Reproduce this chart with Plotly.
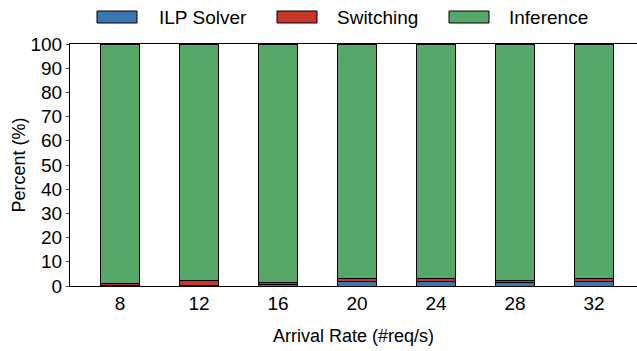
import plotly.graph_objects as go

rates = ["8", "12", "16", "20", "24", "28", "32"]
ilp_solver = [0.2, 0.3, 0.6, 1.8, 2.0, 1.6, 1.8]
switching = [0.9, 1.8, 0.8, 1.2, 1.0, 0.7, 1.2]
inference = [round(100 - a - b, 2) for a, b in zip(ilp_solver, switching)]

series = [
    ("ILP Solver", ilp_solver, "#3A76B0"),
    ("Switching", switching, "#C9372C"),
    ("Inference", inference, "#55A868"),
]

fig = go.Figure()
for name, vals, color in series:
    fig.add_trace(go.Bar(
        x=list(range(len(rates))), y=vals, name=name,
        marker=dict(color=color, line=dict(color="black", width=1)),
        width=0.5, showlegend=False,
    ))

# legend drawn as wide swatches across the top
legend_items = [(97, 137, 157), (277, 317, 335), (449, 489, 507)]
W, H = 637, 351
for (x0, x1, tx), (name, _, color) in zip(legend_items, series):
    fig.add_shape(type="rect", xref="paper", yref="paper",
                  x0=(x0 - 70) / (W - 70), x1=(x1 - 70) / (W - 70),
                  y0=(286 - 23) / 242, y1=(286 - 11) / 242,
                  fillcolor=color, line=dict(color="black", width=1))
    fig.add_annotation(xref="paper", yref="paper",
                       x=(tx - 70) / (W - 70), y=(286 - 17) / 242,
                       text=name, showarrow=False, xanchor="left", yanchor="middle",
                       font=dict(size=19, color="black"))

fig.update_layout(
    barmode="stack",
    width=W, height=H,
    margin=dict(l=70, r=0, t=44, b=65),
    plot_bgcolor="white", paper_bgcolor="white",
    font=dict(family="Liberation Sans, Arial, sans-serif", size=18, color="black"),
    xaxis=dict(
        tickmode="array", tickvals=list(range(len(rates))), ticktext=rates,
        range=[-0.633, 6.544], showline=True, mirror=True, linecolor="black",
        linewidth=1, ticks="", showgrid=False, zeroline=False,
        title=dict(text="Arrival Rate (#req/s)", font=dict(size=18), standoff=16),
        tickfont=dict(size=19),
    ),
    yaxis=dict(
        range=[0, 100], tickvals=list(range(0, 101, 10)), showline=True,
        linecolor="black", linewidth=1, ticks="outside", ticklen=3,
        showgrid=False, zeroline=False,
        title=dict(text="Percent (%)", font=dict(size=18), standoff=0),
        tickfont=dict(size=19),
    ),
)

fig.write_html("out.html")
